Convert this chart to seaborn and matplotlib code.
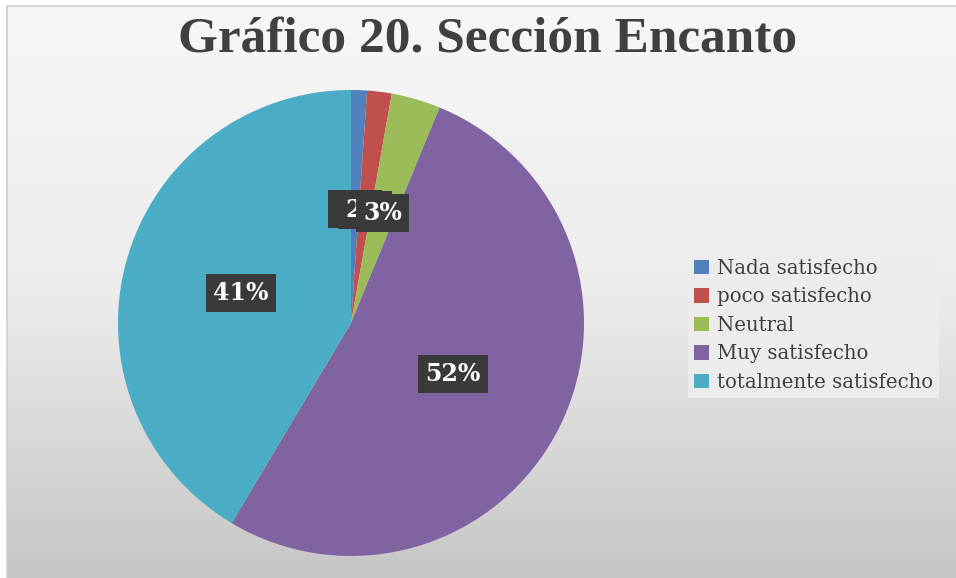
import numpy as np
import matplotlib
matplotlib.use("Agg")
import matplotlib.pyplot as plt
import seaborn as sns

# Survey results, percentage of respondents
categories = ["Nada satisfecho", "poco satisfecho", "Neutral",
              "Muy satisfecho", "totalmente satisfecho"]
percentages = [1.1, 1.7, 3.4, 52.3, 41.4]
colors_hex = ["#4F81BD", "#C0504D", "#9BBB59", "#8064A2", "#4BACC6"]
title = "Gráfico 20. Sección Encanto"

sns.set_theme(style="white")
palette = sns.color_palette(colors_hex)

W, H = 956, 578
fig = plt.figure(figsize=(W / 100, H / 100), dpi=100)
fig.patch.set_facecolor("white")

# Chart area with a soft vertical gradient
bg = fig.add_axes([7 / W, 0, 1 - 7 / W, 1 - 6 / H])
grad = np.linspace(0, 1, 256)[:, None]
bg.imshow(grad, aspect="auto", cmap=matplotlib.colors.LinearSegmentedColormap.from_list(
    "bg", ["#f7f7f7", "#ececec", "#c6c6c6"]), extent=[0, 1, 0, 1], origin="upper")
bg.set_xlim(0, 1)
bg.set_ylim(0, 1)
for side in ["top", "left"]:
    bg.spines[side].set_color("#d0d0d0")
    bg.spines[side].set_linewidth(1.2)
for side in ["right", "bottom"]:
    bg.spines[side].set_visible(False)
bg.set_xticks([])
bg.set_yticks([])

# Pie
cx, cy, r = 351, 323, 233
ax = fig.add_axes([(cx - r) / W, 1 - (cy + r) / H, 2 * r / W, 2 * r / H])
ax.set_facecolor("none")
wedges, texts, autotexts = ax.pie(
    percentages, colors=palette, startangle=90, counterclock=False,
    autopct="%.0f%%", pctdistance=0.49, radius=1,
    wedgeprops=dict(linewidth=0),
)
ax.set_xlim(-1, 1)
ax.set_ylim(-1, 1)
ax.set_aspect("equal")
for t in autotexts:
    t.set_color("white")
    t.set_fontsize(17)
    t.set_fontweight("bold")
    t.set_family("DejaVu Serif")
    t.set_bbox(dict(boxstyle="square,pad=0.3", facecolor="#3a3a3a", edgecolor="none"))

# Title
fig.text(488 / W, 1 - 40 / H, title, ha="center", va="center",
         fontsize=37, fontweight="bold", color="#404040",
         family="Liberation Serif")

# Legend
leg = fig.legend(wedges, categories, loc="upper left",
                 bbox_to_anchor=(688 / W, 1 - 253 / H),
                 frameon=True, fancybox=False, facecolor="#ececec",
                 edgecolor="none", framealpha=1,
                 prop=dict(family="DejaVu Serif", size=14.2),
                 handlelength=0.75, handleheight=0.75, handletextpad=0.4,
                 labelspacing=0.48, borderpad=0.3, borderaxespad=0)
for t in leg.get_texts():
    t.set_color("#404040")

fig.savefig("out.png", dpi=100)
